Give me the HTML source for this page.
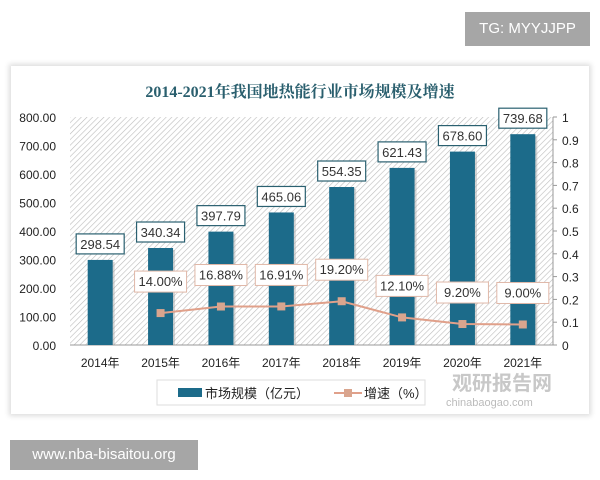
<!DOCTYPE html>
<html><head><meta charset="utf-8"><style>
body{margin:0;width:600px;height:480px;background:#fff;position:relative;overflow:hidden;font-family:"Liberation Sans","Noto Sans CJK SC",sans-serif}
#banner{position:absolute;left:465px;top:12px;width:125px;height:34px;background:#a6a6a6;color:#fff;font-size:15px;line-height:34px;text-align:center}
#site{position:absolute;left:10px;top:440px;width:188px;height:30px;background:#a6a6a6;color:#fff;font-size:15px;line-height:30px;text-align:center}
#card{position:absolute;left:11px;top:66px;width:578px;height:348px;background:#fff;box-shadow:0 0 5px 2px #ddd}
svg{position:absolute;left:0;top:0}
</style></head><body>
<div id="banner">TG: MYYJJPP</div>
<div id="card"></div>
<svg id="chart" width="600" height="480">
<defs><pattern id="hatch" width="4" height="4" patternUnits="userSpaceOnUse" patternTransform="rotate(45)"><rect width="4" height="4" fill="#fff"/><line x1="0" y1="0" x2="0" y2="4" stroke="#bcbcbc" stroke-width="1.2"/></pattern></defs>
<text x="300" y="97" text-anchor="middle" font-family="Liberation Serif,'Noto Serif CJK SC',serif" font-weight="bold" font-size="16" fill="#2a5f6e">2014-2021年我国地热能行业市场规模及增速</text>
</svg>
<div id="site">www.nba-bisaitou.org</div>
<script>
const categories=["2014年","2015年","2016年","2017年","2018年","2019年","2020年","2021年"];
const marketSize=[298.54,340.34,397.79,465.06,554.35,621.43,678.60,739.68];
const growth=[null,0.14,0.1688,0.1691,0.192,0.121,0.092,0.09];
const growthLabels=["","14.00%","16.88%","16.91%","19.20%","12.10%","9.20%","9.00%"];
const leftTicks=[0,100,200,300,400,500,600,700,800];
const rightTicks=[0,0.1,0.2,0.3,0.4,0.5,0.6,0.7,0.8,0.9,1];
const NS="http://www.w3.org/2000/svg",svg=document.getElementById('chart');
const X0=70,X1=553,Y0=345,Y1=117;
const step=(X1-X0)/categories.length;
const xc=i=>X0+step*(i+0.5);
const yL=v=>Y0-(v/800)*(Y0-Y1);
const yR=v=>Y0-v*(Y0-Y1);
function el(t,a,p){const e=document.createElementNS(NS,t);for(const k in a)e.setAttribute(k,a[k]);(p||svg).appendChild(e);return e;}
const bg=el('rect',{x:X0,y:Y1,width:X1-X0,height:Y0-Y1,fill:'url(#hatch)'});


el('line',{x1:X0,y1:Y0,x2:X1,y2:Y0,stroke:'#999'});
el('line',{x1:X1,y1:Y1,x2:X1,y2:Y0,stroke:'#999'});
leftTicks.forEach(v=>{const t=el('text',{x:56,y:yL(v)+5,'text-anchor':'end','font-size':12,fill:'#222'});t.textContent=v.toFixed(2);

});
rightTicks.forEach(v=>{el('line',{x1:X1,y1:yR(v),x2:X1+4,y2:yR(v),stroke:'#999'});const t=el('text',{x:562,y:yR(v)+5,'font-size':12,fill:'#222'});t.textContent=String(v);

});
const bw=25;
categories.forEach((c,i)=>{
 const t=el('text',{x:xc(i),y:367,'text-anchor':'middle','font-size':12,fill:'#222'});t.textContent=c;
 
 
 el('rect',{x:xc(i)-bw/2+2,y:yL(marketSize[i])+2,width:bw,height:Y0-yL(marketSize[i])-2,fill:'#aaa',opacity:0.5});
 const b=el('rect',{x:xc(i)-bw/2,y:yL(marketSize[i]),width:bw,height:Y0-yL(marketSize[i]),fill:'#1c6b8a'});
 
 
 const by=yL(marketSize[i])-26;
 el('rect',{x:xc(i)-24,y:by,width:48,height:20,fill:'#fff',stroke:'#2a6070','stroke-width':1.2});
 const l=el('text',{x:xc(i),y:by+15,'text-anchor':'middle','font-size':13,fill:'#333'});l.textContent=marketSize[i].toFixed(2);
 
 
});
let pts=[];growth.forEach((g,i)=>{if(g!==null)pts.push(xc(i)+','+yR(g));});
const line=el('polyline',{points:pts.join(' '),fill:'none',stroke:'#e0a08a','stroke-width':2});


growth.forEach((g,i)=>{if(g===null)return;
 const m=el('rect',{x:xc(i)-4,y:yR(g)-4,width:8,height:8,fill:'#d9a58e'});
 
 
 const by=yR(g)-42;
 el('rect',{x:xc(i)-26,y:by,width:52,height:21,fill:'#fff',stroke:'#e0b8a8'});
 const l=el('text',{x:xc(i),y:by+15,'text-anchor':'middle','font-size':13,fill:'#333'});l.textContent=growthLabels[i];
 
 
});
const lg=el('g',{});


el('rect',{x:157,y:380,width:268,height:25,fill:'#fff',stroke:'#ddd'},lg);
el('rect',{x:178,y:388,width:24,height:9,fill:'#1c6b8a'},lg);
const l1=el('text',{x:205,y:398,'font-size':13,fill:'#222'},lg);l1.textContent='市场规模（亿元）';


el('line',{x1:334,y1:393,x2:362,y2:393,stroke:'#e0a08a','stroke-width':2},lg);
el('rect',{x:344,y:389,width:8,height:8,fill:'#d9a58e'},lg);
const l2=el('text',{x:364,y:398,'font-size':13,fill:'#222'},lg);l2.textContent='增速（%）';


const w1=el('text',{x:452,y:390,'font-size':20,'font-weight':'bold',fill:'#c8c8c8'});w1.textContent='观研报告网';


const w2=el('text',{x:446,y:406,'font-size':11,fill:'#bbb'});w2.textContent='chinabaogao.com';


</script>
</body></html>
